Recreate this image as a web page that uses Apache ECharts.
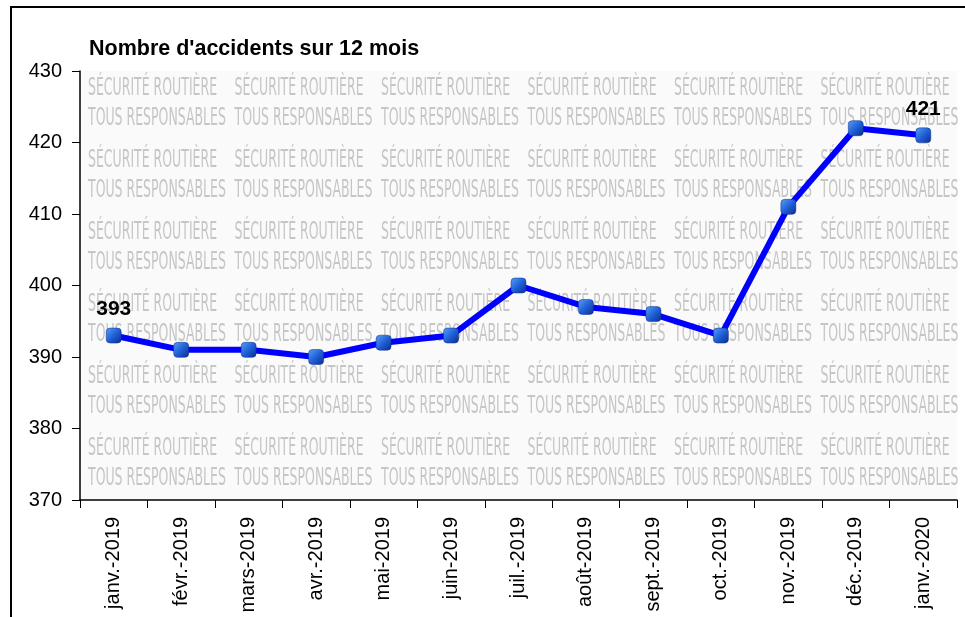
<!DOCTYPE html>
<html>
<head>
<meta charset="utf-8">
<script src="https://cdn.jsdelivr.net/npm/echarts@6/dist/echarts.min.js"></script>
<style>
  html, body { margin: 0; padding: 0; background: #fff; }
  #chart { width: 965px; height: 617px; }
</style>
</head>
<body>
<div id="chart"></div>
<script>
// data
const months = ['janv.-2019', 'févr.-2019', 'mars-2019', 'avr.-2019', 'mai-2019', 'juin-2019',
  'juil.-2019', 'août-2019', 'sept.-2019', 'oct.-2019', 'nov.-2019', 'déc.-2019', 'janv.-2020'];
const accidents = [393, 391, 391, 390, 392, 393, 400, 397, 396, 393, 411, 422, 421];
const labelledIdx = [0, 12];

const chart = echarts.init(document.getElementById('chart'));

// background watermark "SÉCURITÉ ROUTIÈRE / TOUS RESPONSABLES"
function watermark() {
    const items = [];
    for (let c = 0; c < 6; c++) {
        for (let r = 0; r < 6; r++) {
            const x = 88 + c * 146.5;
            const y = 76 + r * 72;
            ['SÉCURITÉ ROUTIÈRE', 'TOUS RESPONSABLES'].forEach((t, k) => {
                items.push({
                    type: 'text',
                    x: x, y: y + k * 30,
                    scaleX: 0.5,
                    z: 1,
                    style: {
                        text: t,
                        fill: '#c6c6c6',
                        font: '25px "DejaVu Sans"',
                        textVerticalAlign: 'top'
                    },
                    silent: true
                });
            });
        }
    }
    return items;
}

const option = {
    backgroundColor: '#fff',
    animation: false,
    title: {
        text: "Nombre d'accidents sur 12 mois",
        left: 84, top: 33,
        textStyle: { fontFamily: 'Liberation Sans', fontSize: 21.5, fontWeight: 'bold', color: '#000' }
    },
    grid: { left: 80, top: 71, right: 8, bottom: 117, containLabel: false,
        show: true, backgroundColor: '#fafafa', borderWidth: 0 },
    graphic: [
        { type: 'rect', shape: { x: 11, y: 7, width: 1000, height: 700 },
          style: { fill: 'none', stroke: '#000', lineWidth: 2 }, silent: true, z: 10 }
    ].concat(watermark()),
    xAxis: {
        type: 'category',
        data: months,
        boundaryGap: true,
        z: 3,
        axisLine: { lineStyle: { color: '#000', width: 1.5 } },
        axisTick: { show: true, length: 8, alignWithLabel: false, lineStyle: { color: '#000' } },
        axisLabel: { rotate: 90, interval: 0, margin: 17, color: '#000', fontFamily: 'Liberation Sans', fontSize: 20 },
        splitLine: { show: false }
    },
    yAxis: {
        type: 'value',
        min: 370, max: 430, interval: 10,
        z: 3,
        axisLine: { show: true, lineStyle: { color: '#000', width: 1.5 } },
        axisTick: { show: true, length: 8, lineStyle: { color: '#000' } },
        axisLabel: { margin: 18, color: '#000', fontFamily: 'Liberation Sans', fontSize: 20 },
        splitLine: { show: false }
    },
    series: [{
        type: 'line',
        data: accidents.map((v, i) => ({
            value: v,
            label: { show: labelledIdx.includes(i) }
        })),
        lineStyle: { color: '#0000ff', width: 6 },
        symbol: 'roundRect',
        symbolSize: 15,
        itemStyle: {
            color: new echarts.graphic.LinearGradient(0, 0, 1, 1, [
                { offset: 0, color: '#5aa0f5' },
                { offset: 0.5, color: '#2060d8' },
                { offset: 1, color: '#0a2c8a' }
            ]),
            borderColor: '#0a2c8a', borderWidth: 0.5
        },
        label: {
            position: 'top', distance: 8,
            color: '#000', fontFamily: 'Liberation Sans', fontSize: 21, fontWeight: 'bold'
        },
        z: 5
    }]
};

chart.setOption(option);
</script>
</body>
</html>
